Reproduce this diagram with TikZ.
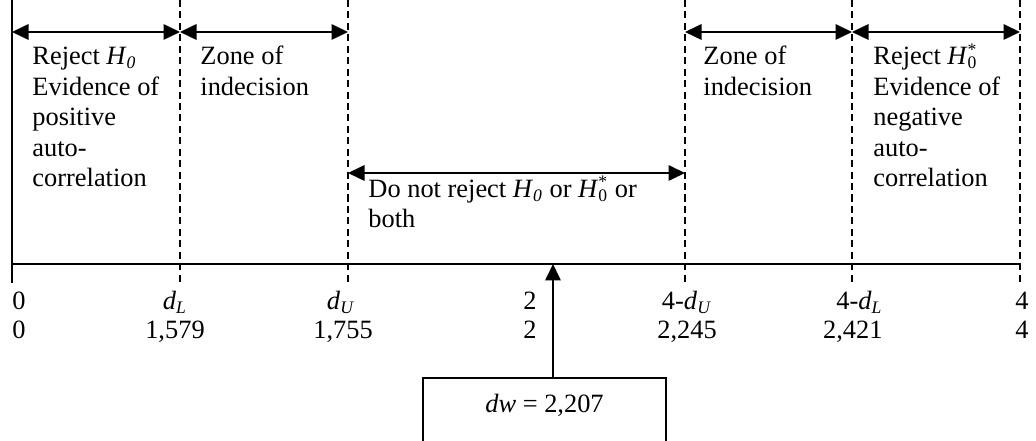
\documentclass[tikz,border=0pt]{standalone}
\usepackage{fontspec}
\setmainfont{Liberation Serif}
\usetikzlibrary{arrows.meta}

\newcommand{\Hnull}{\textit{H}\textsubscript{\textit{0}}}
\newcommand{\Hstar}{\textit{H}\rlap{\textsuperscript{*}}\textsubscript{0}}
\newcommand{\dsub}[1]{\textit{d}\textsubscript{\textit{#1}}}

\begin{document}
\begin{tikzpicture}[x=0.4545pt,y=-0.4545pt,
  zone/.style={line width=0.5pt,dash pattern=on 3.2pt off 2pt},
  span/.style={line width=0.9pt,{Triangle[length=7.5pt,width=7pt]}-{Triangle[length=7.5pt,width=7pt]}},
  txt/.style={anchor=base west,align=left,inner sep=0pt,font=\fontsize{12}{13.9}\selectfont},
  lab/.style={anchor=base,inner sep=0pt,font=\fontsize{12}{13.9}\selectfont}]
\useasboundingbox (0,0) rectangle (1036,441);
% Axis and zone borders
\draw[line width=0.7pt] (12,0) -- (12,283);
\draw[line width=0.7pt] (12,264) -- (1020,264);
\foreach \x in {180,348,685,852,1020}
    \draw[zone] (\x,0) -- (\x,283);
\foreach \x/\n in {12/a,180/b,348/c,685/d,852/e,1020/f}
    \coordinate (top\n) at (\x,32);
\coordinate (midc) at (348,173);
\coordinate (midd) at (685,173);
% Zone arrows
\draw[span] (topa) -- (topb);
\draw[span] (topb) -- (topc);
\draw[span] (topd) -- (tope);
\draw[span] (tope) -- (topf);
\draw[span] (midc) -- (midd);
% Zone texts (placed at the baseline of their last line)
\node[txt] (rejL) at (32,187) {Reject \Hnull\\Evidence of\\positive\\auto-\\correlation};
\node[txt] (indL) at (200,95.5) {Zone of\\indecision};
\node[txt] (indR) at (703,95.5) {Zone of\\indecision};
\node[txt] (rejR) at (873,187) {Reject \Hstar\\Evidence of\\negative\\auto-\\correlation};
\node[txt] (keep) at (368,228) {Do not reject \Hnull{} or \Hstar{} or\\both};
% Axis labels
\node[lab,anchor=base west] (z1) at (12,310) {0};
\node[lab,anchor=base west] (z2) at (12,339) {0};
\node[lab] (dl1) at (175,310) {\dsub{L}};
\node[lab] (dl2) at (175,339) {1,579};
\node[lab] (du1) at (341,310) {\dsub{U}};
\node[lab] (du2) at (343,339) {1,755};
\node[lab,anchor=base east] (t1) at (537,310) {2};
\node[lab,anchor=base east] (t2) at (537,339) {2};
\node[lab] (ru1) at (687,310) {4-\dsub{U}};
\node[lab] (ru2) at (687,339) {2,245};
\node[lab,anchor=base east] (rl1) at (883,310) {4-\dsub{L}};
\node[lab,anchor=base east] (rl2) at (883,339) {2,421};
\node[lab,anchor=base east] (f1) at (1029,310) {4};
\node[lab,anchor=base east] (f2) at (1029,339) {4};
% Test statistic
\node[draw,line width=0.7pt,anchor=north,minimum width=110.4pt,inner xsep=0pt,inner ysep=0pt,
      text height=15.9pt,text depth=26.4pt,font=\fontsize{12}{13.9}\selectfont] (dw) at (544.5,377) {\textit{dw} = 2,207};
\coordinate (hit) at (553,264);
\draw[line width=0.9pt,-{Triangle[length=7.5pt,width=7pt]}] (hit |- dw.north) -- (hit);
\end{tikzpicture}
\end{document}
